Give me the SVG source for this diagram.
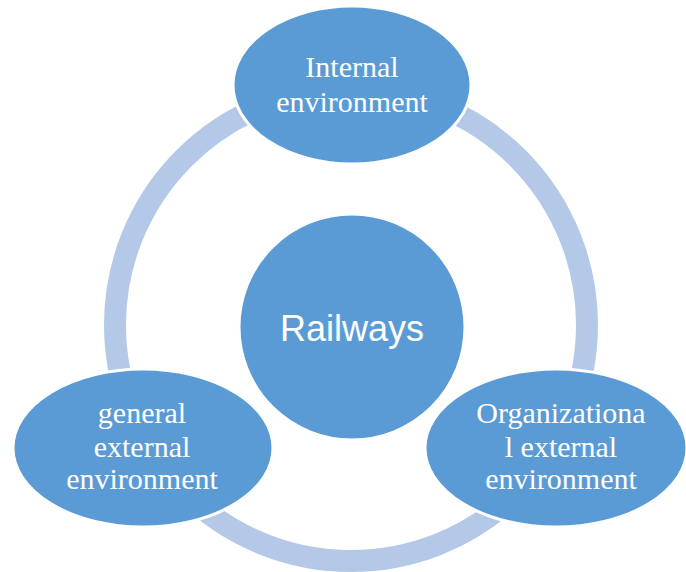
<svg xmlns="http://www.w3.org/2000/svg" width="686" height="572" viewBox="0 0 686 572">
<style>
.ring{fill:none;stroke:#B4C9E7;stroke-width:22}
.node{fill:#5B9BD5;stroke:#FFFFFF;stroke-width:3}
.lbl{font-family:"Liberation Serif","Times New Roman",serif;font-size:30px;fill:#FFFFFF;text-anchor:middle}
.center{font-family:"Liberation Sans",Arial,sans-serif;font-size:36px;fill:#FFFFFF;text-anchor:middle}
</style>
<rect width="686" height="572" fill="#FFFFFF"/>
<g id="connectors">
<circle class="ring" cx="351" cy="325" r="236"/>
</g>
<g id="railways">
<circle class="node" cx="352" cy="327" r="113" stroke="none"/>
<text class="center" x="352" y="341">Railways</text>
</g>
<g id="internal">
<ellipse class="node" cx="352" cy="85" rx="119" ry="79"/>
<text class="lbl" x="352" y="77">Internal</text>
<text class="lbl" x="352" y="112">environment</text>
</g>
<g id="general">
<ellipse class="node" cx="143" cy="448" rx="130" ry="79"/>
<text class="lbl" x="142" y="423">general</text>
<text class="lbl" x="142" y="457">external</text>
<text class="lbl" x="142" y="489">environment</text>
</g>
<g id="organizational">
<ellipse class="node" cx="556" cy="448" rx="131" ry="79"/>
<text class="lbl" x="561" y="423">Organizationa</text>
<text class="lbl" x="561" y="457">l external</text>
<text class="lbl" x="561" y="489">environment</text>
</g>
</svg>
